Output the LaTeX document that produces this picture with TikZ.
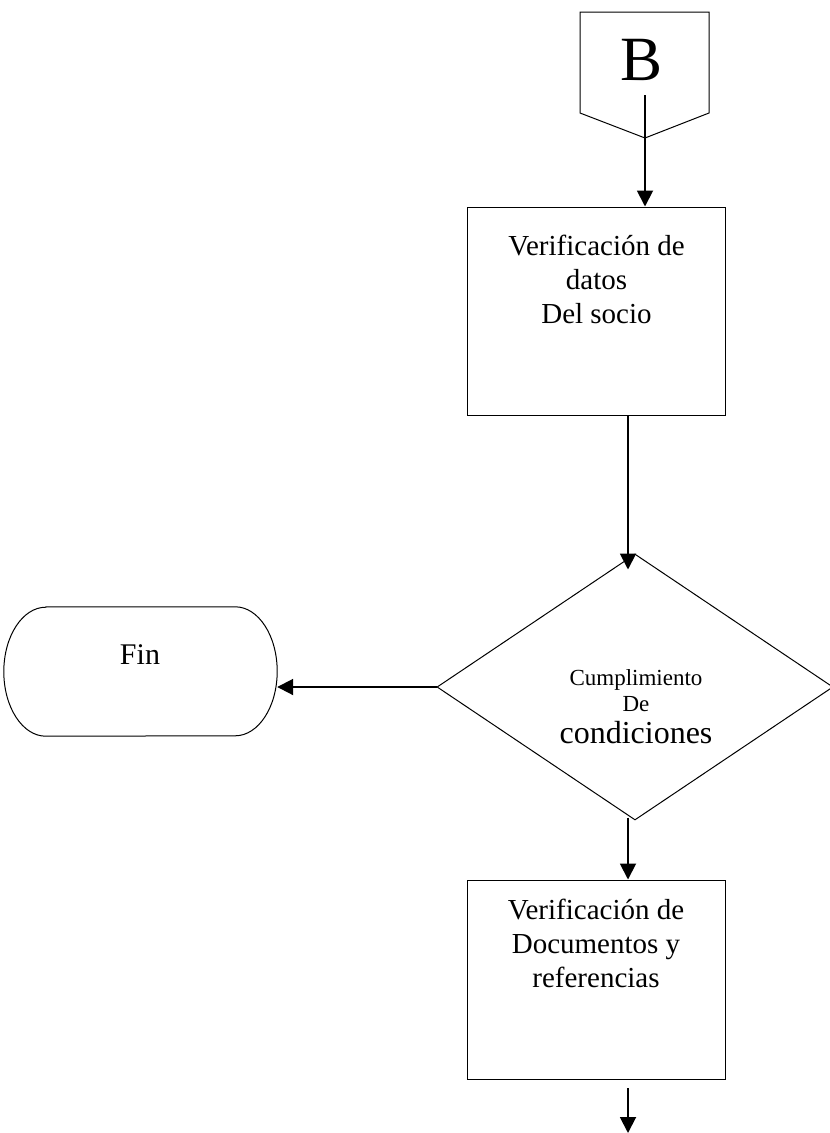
\documentclass[tikz,border=0pt]{standalone}
\usepackage{fontspec}
\setmainfont{Liberation Serif}
\usetikzlibrary{arrows.meta,shapes.geometric}

\begin{document}
\begin{tikzpicture}[x=1pt,y=-1pt,
    caja/.style={draw,line width=1pt,minimum width=258pt,inner sep=0pt},
    texto/.style={font=\fontsize{29}{34}\selectfont,align=center},
    flecha/.style={line width=1.9pt,-{Triangle[width=16pt,length=16pt]}}]

        \useasboundingbox (0,0) rectangle (830,1133);

        % conector B
        \draw [line width=1pt] (580,12) -- (709,12) -- (709,113) -- (645,138) -- (580,113) -- cycle;
        \node [font=\fontsize{63}{63}\selectfont] (conB) at (642,60) {B};
        \coordinate (salidaB) at (645,95);

        % verificacion de datos
        \node [caja,minimum height=208pt] (verDatos) at (596.5,311) {};
        \node [texto] (txtDatos) at (596.5,279) {Verificación de\\datos\\Del socio};

        % decision
        \node [draw,diamond,line width=1pt,inner sep=0pt,minimum width=396pt,minimum height=266pt] (cumple) at (635,687) {};
        \node [font=\fontsize{23}{26}\selectfont,align=center] (txtCumple) at (636,707)
            {Cumplimiento\\De\\[6pt]{\fontsize{32}{32}\selectfont condiciones}};

        % fin
        \node [minimum width=273pt,minimum height=129pt] (fin) at (140.5,671.5) {};
        \draw [line width=1pt] ([xshift=42pt]fin.north west) -- ([xshift=-42pt]fin.north east)
            arc [start angle=90,end angle=-90,x radius=42pt,y radius=64.5pt]
            -- ([xshift=42pt]fin.south west)
            arc [start angle=270,end angle=90,x radius=42pt,y radius=64.5pt] -- cycle;
        \node [font=\fontsize{30}{30}\selectfont] (txtFin) at (140,655) {Fin};

        % verificacion de documentos
        \node [caja,minimum height=199pt] (verDocs) at (596,979.5) {};
        \node [texto] (txtDocs) at (596,943) {Verificación de\\Documentos y\\referencias};

        \coordinate (salida) at (628,1133);

        % flechas
        \draw [flecha] (salidaB) -- (salidaB |- verDatos.north);
        \draw [flecha] ([xshift=-7pt]cumple.north |- verDatos.south) -- ([xshift=-7pt,yshift=-16pt]cumple.north);
        \draw [flecha] (cumple.west) -- (fin.east |- cumple.west);
        \draw [flecha] ([xshift=-7pt,yshift=3pt]cumple.south) -- ([xshift=-7pt]cumple.south |- verDocs.north);
        \draw [flecha] (salida |- 0,1088) -- (salida);
\end{tikzpicture}
\end{document}
